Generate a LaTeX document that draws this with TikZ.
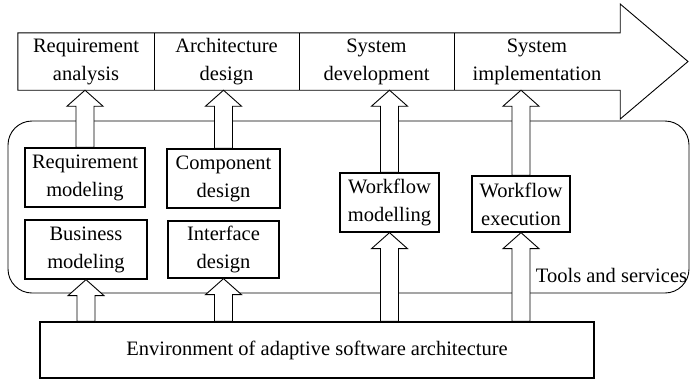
\documentclass[tikz,border=0pt]{standalone}
\usepackage{fontspec}
\setmainfont{Liberation Serif}
\usetikzlibrary{calc}
\newcommand\blkarrow[2]{%
  \draw[blk] let \p1=(#1), \p2=(#2) in
    (\x2-9pt,\y1) -- (\x2-9pt,\y2-16pt) -- (\x2-18pt,\y2-16pt) -- (\x2,\y2)
    -- (\x2+18pt,\y2-16pt) -- (\x2+9pt,\y2-16pt) -- (\x2+9pt,\y1) -- cycle;}
\begin{document}
\begin{tikzpicture}[x=1pt,y=-1pt,
  txt/.style={font=\fontsize{20.5}{28}\selectfont, align=center, inner sep=0pt},
  cell/.style={txt, minimum height=57pt},
  boxnode/.style={txt, draw, line width=1.3pt},
  ln/.style={line width=0.9pt},
  blk/.style={draw, fill=white, line width=0.9pt, line join=miter}]
\useasboundingbox (0,0) rectangle (690,381);

% tools and services container
\node[draw, ln, rounded corners=24pt, minimum width=681pt, minimum height=172pt, inner sep=0pt] (tools) at (348.5,207) {};
\node[txt] (tl) at (611.5,275) {Tools and services};

% top process arrow
\node[cell, minimum width=136pt] (c1) at (86,61.5) {Requirement\\analysis};
\node[cell, minimum width=145pt] (c2) at (226.5,61.5) {Architecture\\design};
\node[cell, minimum width=155pt] (c3) at (376.5,61.5) {System\\development};
\node[cell, minimum width=166pt] (c4) at (537,61.5) {System\\implementation};
\coordinate (tip) at (688,61.5);
\draw[ln, line join=miter] (c1.north west) -- (c4.north east) -- (c4.north east |- 0,4) -- (tip)
  -- (c4.south east |- 0,119) -- (c4.south east) -- (c1.south west) -- cycle;
\draw[ln] (c1.north east) -- (c1.south east);
\draw[ln] (c2.north east) -- (c2.south east);
\draw[ln] (c3.north east) -- (c3.south east);

% inner boxes
\node[boxnode, minimum width=120pt, minimum height=59pt] (rm) at (85,177.5) {Requirement\\modeling};
\node[boxnode, minimum width=122pt, minimum height=59pt] (bm) at (86,249.5) {Business\\modeling};
\node[boxnode, minimum width=113pt, minimum height=59pt] (cd) at (223.5,178.5) {Component\\design};
\node[boxnode, minimum width=111pt, minimum height=57pt] (id) at (223.5,249.5) {Interface\\design};
\node[boxnode, minimum width=99pt, minimum height=59pt] (wm) at (389.5,202.5) {Workflow\\modelling};
\node[boxnode, minimum width=98pt, minimum height=56pt] (we) at (521,204) {Workflow\\execution};

% environment
\node[boxnode, minimum width=554pt, minimum height=56pt] (env) at (317,350) {Environment of adaptive software architecture};

% block arrows up to the process
\blkarrow{rm.north}{rm.north |- c1.south}
\blkarrow{cd.north}{cd.north |- c2.south}
\blkarrow{wm.north}{wm.north |- c3.south}
\blkarrow{we.north}{we.north |- c4.south}

% block arrows from environment
\blkarrow{bm.south |- env.north}{bm.south}
\blkarrow{id.south |- env.north}{id.south}
\blkarrow{wm.south |- env.north}{wm.south}
\blkarrow{we.south |- env.north}{we.south}
\end{tikzpicture}
\end{document}
